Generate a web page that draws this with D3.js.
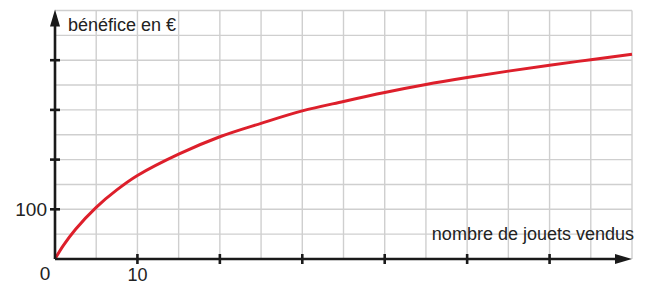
<!DOCTYPE html>
<html>
<head>
<meta charset="utf-8">
<script src="https://cdn.jsdelivr.net/npm/d3@7"></script>
<style>
  body { margin: 0; background: #fff; }
  text { font-family: "Liberation Sans", Arial, sans-serif; fill: #222; }
</style>
</head>
<body>
<script>
// values
const jouets   = [0, 1, 2.5, 5, 7.5, 10, 15, 20, 25, 30, 35, 40, 45, 50, 55, 60, 65, 70];
const benefice = [0, 27, 60, 104, 139, 168, 211, 246, 273, 298, 317, 335, 351, 365, 378, 390, 401, 412];
const xTicks = [10, 20, 30, 40, 50, 60];
const yTicks = [100, 200, 300, 400];

const width = 646, height = 286;

const svg = d3.select("body").append("svg")
    .attr("width", width)
    .attr("height", height);

const xscale = d3.scaleLinear().domain([0, 70]).range([55, 632]);
const yscale = d3.scaleLinear().domain([0, 500]).range([259, 10.5]);

// grid
const grid = svg.append("g")
    .attr("stroke", "#cfcfcf")
    .attr("stroke-width", 1.4);
grid.selectAll("line.v")
    .data(d3.range(5, 71, 5))
    .enter().append("line")
    .attr("x1", d => xscale(d)).attr("x2", d => xscale(d))
    .attr("y1", yscale(0)).attr("y2", yscale(500));
grid.selectAll("line.h")
    .data(d3.range(50, 501, 50))
    .enter().append("line")
    .attr("x1", xscale(0)).attr("x2", xscale(70))
    .attr("y1", d => yscale(d)).attr("y2", d => yscale(d));

// curve
const line = d3.line()
    .x((d, i) => xscale(jouets[i]))
    .y(d => yscale(d))
    .curve(d3.curveCatmullRom.alpha(0.5));
svg.append("path")
    .attr("d", line(benefice))
    .attr("fill", "none")
    .attr("stroke", "#dd1f2b")
    .attr("stroke-width", 3);

// axes
const axes = svg.append("g").attr("stroke", "#1a1a1a").attr("stroke-width", 2.6);
axes.append("line")
    .attr("x1", xscale(0)).attr("x2", xscale(70) - 10)
    .attr("y1", yscale(0)).attr("y2", yscale(0));
axes.append("line")
    .attr("x1", xscale(0)).attr("x2", xscale(0))
    .attr("y1", yscale(0)).attr("y2", yscale(500) + 10);

axes.selectAll("line.xt")
    .data(xTicks)
    .enter().append("line")
    .attr("x1", d => xscale(d)).attr("x2", d => xscale(d))
    .attr("y1", yscale(0) - 5).attr("y2", yscale(0) + 5);
axes.selectAll("line.yt")
    .data(yTicks)
    .enter().append("line")
    .attr("x1", xscale(0) - 5).attr("x2", xscale(0) + 5)
    .attr("y1", d => yscale(d)).attr("y2", d => yscale(d));

// arrow heads
const ax = xscale(70), ay = yscale(0);
svg.append("path")
    .attr("d", `M${ax},${ay} L${ax - 17},${ay - 5} L${ax - 17},${ay + 5} Z`)
    .attr("fill", "#1a1a1a");
const tx = xscale(0), ty = yscale(500);
svg.append("path")
    .attr("d", `M${tx},${ty - 1} L${tx - 5},${ty + 16} L${tx + 5},${ty + 16} Z`)
    .attr("fill", "#1a1a1a");

// labels
svg.append("text")
    .attr("x", 68).attr("y", 31)
    .attr("font-size", 18)
    .text("bénéfice en €");
svg.append("text")
    .attr("x", 634).attr("y", 240)
    .attr("text-anchor", "end")
    .attr("font-size", 18)
    .text("nombre de jouets vendus");
svg.append("text")
    .attr("x", 47).attr("y", yscale(100) + 7)
    .attr("text-anchor", "end")
    .attr("font-size", 19)
    .text("100");
svg.append("text")
    .attr("x", 45).attr("y", 280)
    .attr("text-anchor", "middle")
    .attr("font-size", 19)
    .text("0");
svg.append("text")
    .attr("x", xscale(10)).attr("y", 281)
    .attr("text-anchor", "middle")
    .attr("font-size", 18)
    .text("10");
</script>
</body>
</html>
